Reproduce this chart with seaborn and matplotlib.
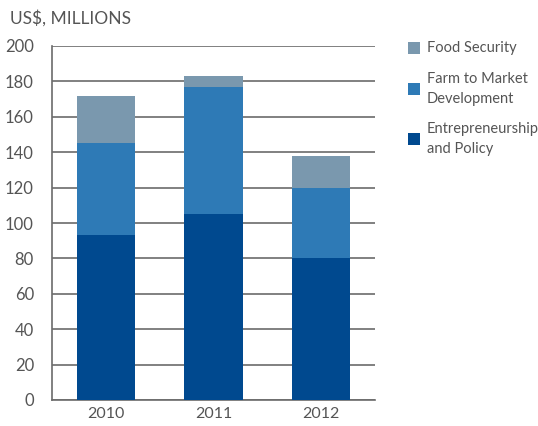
import matplotlib
matplotlib.use("Agg")
import matplotlib.pyplot as plt
import seaborn as sns
import pandas as pd
from matplotlib.patches import Rectangle

sns.set_style("white")
plt.rcParams['font.family'] = ['Lato', 'DejaVu Sans']

years = ["2010", "2011", "2012"]
entrepreneurship = [93, 105, 80]
farm_to_market = [52, 72, 40]
food_security = [27, 6, 18]

series = ["Food Security", "Farm to Market\nDevelopment", "Entrepreneurship\nand Policy"]
colors = ["#7a98ae", "#2e7ab6", "#00498f"]

# cumulative heights for stacking
lvl1 = entrepreneurship
lvl2 = [a + b for a, b in zip(lvl1, farm_to_market)]
lvl3 = [a + b for a, b in zip(lvl2, food_security)]

text_c = "#555555"
line_c = "#6b6b6b"

fig = plt.figure(figsize=(5.38, 4.26), dpi=100)
ax = fig.add_axes([52/538, 26/426, 323/538, 354/426])

for heights, c in zip([lvl3, lvl2, lvl1], colors):
    df = pd.DataFrame({"year": years, "value": heights})
    sns.barplot(data=df, x="year", y="value", color=c, width=0.54,
                saturation=1, ax=ax, zorder=3, edgecolor="none", linewidth=0)

ax.set_xlim(-0.5, 2.5)
ax.set_ylim(0, 200)
ax.set_yticks(range(0, 201, 20))
ax.yaxis.grid(True, color=line_c, linewidth=1.2, zorder=0)
ax.set_axisbelow(True)
ax.set_xlabel("")
ax.set_ylabel("")

for s in ["top", "right"]:
    ax.spines[s].set_visible(False)
for s in ["left", "bottom"]:
    ax.spines[s].set_color(line_c)
    ax.spines[s].set_linewidth(1.2)

ax.tick_params(axis="y", length=0, labelsize=12, labelcolor=text_c, pad=13)
ax.tick_params(axis="x", which="major", length=0, labelsize=11.5, labelcolor=text_c, pad=5)
ax.set_xticks([-0.5, 0.5, 1.5, 2.5], minor=True)
ax.tick_params(axis="x", which="minor", length=7, width=1.2, color=line_c, direction="out")

fig.text(10/538, 1 - 18/426, "US$, MILLIONS", fontsize=12.5, color=text_c, va="center", ha="left")

# legend drawn by hand to get the loose line spacing
leg_y = [48, 89, 139]
for lab, c, y in zip(series, colors, leg_y):
    fig.patches.append(Rectangle((408/538, 1 - (y + 6)/426), 12/538, 12/426,
                                 transform=fig.transFigure, facecolor=c,
                                 edgecolor="none", figure=fig))
    fig.text(427/538, 1 - y/426, lab,
             fontsize=10.5, color=text_c, va="center", ha="left", linespacing=1.55)

fig.savefig("out.png", dpi=100)
